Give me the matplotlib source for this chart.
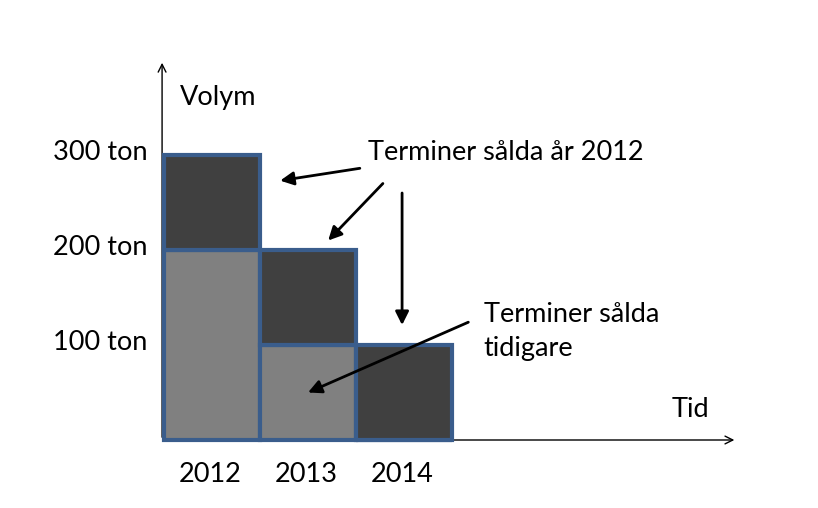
import matplotlib.pyplot as plt

years = ["2012", "2013", "2014"]
sold_earlier = [200, 100, 0]
sold_2012 = [100, 100, 100]
y_ticks = [100, 200, 300]
y_tick_labels = ["100 ton", "200 ton", "300 ton"]

plt.rcParams['font.family'] = ['Lato', 'DejaVu Sans']

fig = plt.figure(figsize=(8.18, 5.08), dpi=100)
ax = fig.add_axes([0, 0, 1, 1])
ax.set_xlim(-164 / 96, (818 - 164) / 96)
ax.set_ylim(-68 / 0.95, 440 / 0.95)
ax.axis('off')

edge = '#3a5d8c'
x = list(range(len(years)))
ax.bar(x, sold_earlier, width=1, align='edge', color='#808080',
       edgecolor=edge, linewidth=3, zorder=2)
ax.bar(x, sold_2012, width=1, bottom=sold_earlier, align='edge', color='#404040',
       edgecolor=edge, linewidth=3, zorder=2)

# axes with arrow heads
ax.annotate('', xy=(-0.02, 400), xytext=(-0.02, 0),
            arrowprops=dict(arrowstyle='->', lw=1, color='black', mutation_scale=14), zorder=1)
ax.annotate('', xy=(5.97, 0), xytext=(-0.02, 0),
            arrowprops=dict(arrowstyle='->', lw=1, color='black', mutation_scale=14), zorder=1)

fs = 19.5
for v, lab in zip(y_ticks, y_tick_labels):
    ax.text(-0.17, v + 3, lab, ha='right', va='center', fontsize=fs)
for i, yr in enumerate(years):
    ax.text(i + 0.48, -36, yr, ha='center', va='center', fontsize=fs)

ax.text(0.17, 361, "Volym", ha='left', va='center', fontsize=fs)
ax.text(5.29, 32, "Tid", ha='left', va='center', fontsize=fs)
ax.text(2.125, 303, "Terminer sålda år 2012", ha='left', va='center', fontsize=fs)
ax.text(3.33, 114, "Terminer sålda\ntidigare", ha='left', va='center',
        fontsize=fs, linespacing=1.45)

arrow = dict(arrowstyle='-|>', lw=2, color='black', mutation_scale=20,
             shrinkA=0, shrinkB=0)
ax.annotate('', xy=(1.21, 273), xytext=(2.04, 286), arrowprops=arrow, zorder=3)
ax.annotate('', xy=(1.71, 210), xytext=(2.28, 270), arrowprops=arrow, zorder=3)
ax.annotate('', xy=(2.48, 121), xytext=(2.48, 260), arrowprops=arrow, zorder=3)
ax.annotate('', xy=(1.5, 50), xytext=(3.17, 124), arrowprops=arrow, zorder=3)

fig.savefig('out.png', dpi=100)
